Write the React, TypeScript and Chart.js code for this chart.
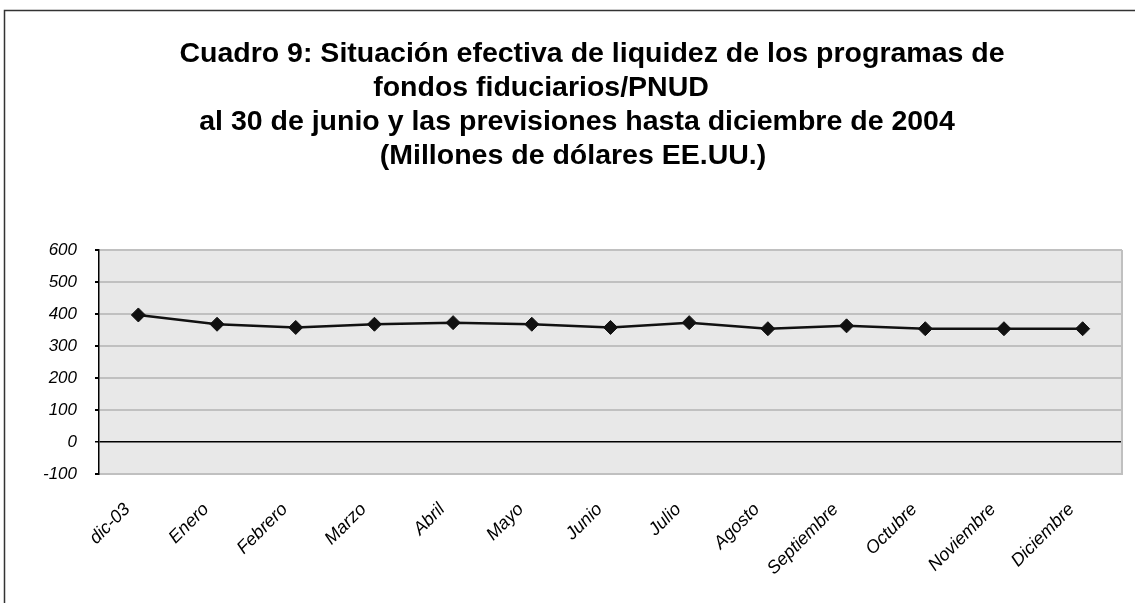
import { useEffect, useRef } from 'react';
import { Chart, registerables } from 'chart.js';

Chart.register(...registerables);

const categories = ['dic-03', 'Enero', 'Febrero', 'Marzo', 'Abril', 'Mayo', 'Junio', 'Julio', 'Agosto', 'Septiembre', 'Octubre', 'Noviembre', 'Diciembre'];
const liquidez = [397, 368, 358, 368, 373, 368, 358, 373, 354, 363, 354, 354, 354];
const yMin = -100;
const yMax = 600;
const yStep = 100;
const titleLines = [
  'Cuadro 9: Situación efectiva de liquidez de los programas de',
  'fondos fiduciarios/PNUD',
  'al 30 de junio y las previsiones hasta diciembre de 2004',
  '(Millones de dólares EE.UU.)',
];

const FONT = '"Liberation Sans", Arial, sans-serif';
const titleCenters = [592, 541, 577, 573];

const framePlugin = {
  id: 'frame',
  beforeDraw(chart: any) {
    const { ctx, chartArea: a } = chart;
    ctx.save();
    ctx.fillStyle = '#ffffff';
    ctx.fillRect(0, 0, chart.width, chart.height);
    ctx.fillStyle = '#e8e8e8';
    ctx.fillRect(a.left, a.top, a.right - a.left, a.bottom - a.top);
    ctx.strokeStyle = '#333333';
    ctx.lineWidth = 1.5;
    ctx.beginPath();
    ctx.moveTo(4.5, chart.height + 10);
    ctx.lineTo(4.5, 10.5);
    ctx.lineTo(chart.width + 10, 10.5);
    ctx.stroke();
    ctx.fillStyle = '#000000';
    ctx.font = `bold 28.5px ${FONT}`;
    ctx.textAlign = 'center';
    ctx.textBaseline = 'alphabetic';
    titleLines.forEach((t, i) => ctx.fillText(t, titleCenters[i], 62 + i * 34));
    ctx.restore();
  },
  beforeDatasetsDraw(chart: any) {
    const { ctx, chartArea: a } = chart;
    ctx.save();
    ctx.strokeStyle = '#c0c0c0';
    ctx.lineWidth = 2;
    ctx.beginPath();
    ctx.moveTo(a.right, a.top);
    ctx.lineTo(a.right, a.bottom);
    ctx.stroke();
    ctx.restore();
  },
};

export default function App() {
  const ref = useRef<HTMLCanvasElement>(null);
  useEffect(() => {
    if (!ref.current) return;
    const chart = new Chart(ref.current, {
      type: 'line',
      data: {
        labels: categories,
        datasets: [
          {
            data: liquidez,
            borderColor: '#111111',
            borderWidth: 2.5,
            pointStyle: 'rectRot',
            pointRadius: 7,
            pointBackgroundColor: '#111111',
            pointBorderColor: '#111111',
            pointBorderWidth: 1,
            tension: 0,
          },
        ],
      },
      options: {
        responsive: false,
        animation: false,
        layout: { padding: { top: 250, right: 13, left: 0, bottom: 0 } },
        plugins: {
          legend: { display: false },
          tooltip: { enabled: false },
          title: { display: false },
        },
        scales: {
          x: {
            offset: true,
            grid: { display: false, drawTicks: false },
            border: { display: true, color: '#c0c0c0', width: 2 },
            ticks: {
              autoSkip: false,
              maxRotation: 45,
              minRotation: 45,
              labelOffset: -11,
              padding: 25,
              color: '#000000',
              font: { family: FONT, size: 18, style: 'italic' },
            },
            afterFit(scale: any) {
              scale.height = 129;
            },
          },
          y: {
            min: yMin,
            max: yMax,
            ticks: {
              stepSize: yStep,
              padding: 18,
              color: '#000000',
              font: { family: FONT, size: 17, style: 'italic' },
            },
            grid: {
              color: (c: any) => (c.tick && c.tick.value === 0 ? '#000000' : '#c0c0c0'),
              lineWidth: (c: any) => (c.tick && c.tick.value === 0 ? 1.5 : 2),
              tickColor: '#000000',
              tickLength: 4,
            },
            border: { display: true, color: '#000000', width: 1.5 },
            afterFit(scale: any) {
              scale.width = 99;
            },
          },
        },
      },
      plugins: [framePlugin],
    });
    return () => chart.destroy();
  }, []);
  return (
    <canvas
      ref={ref}
      width={1135}
      height={603}
      style={{ position: 'fixed', left: 0, top: 0, display: 'block' }}
    />
  );
}
